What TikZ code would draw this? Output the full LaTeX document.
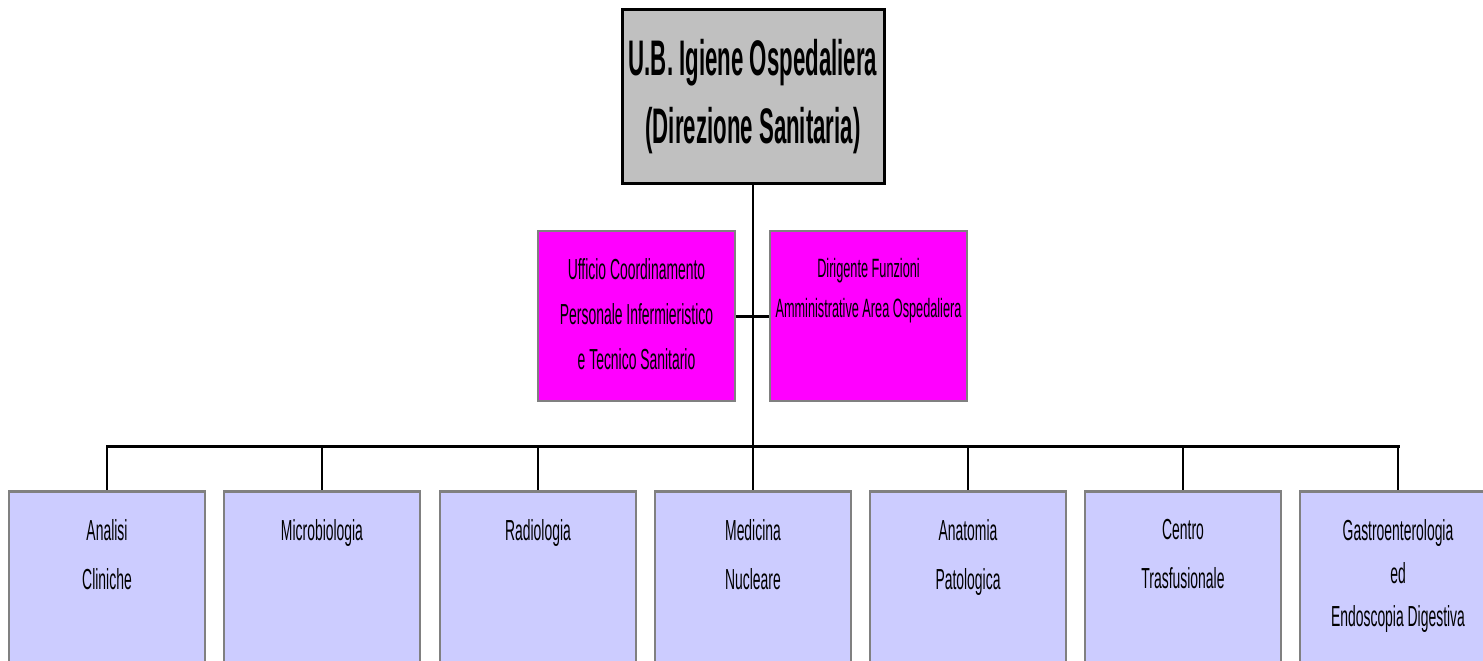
\documentclass[tikz,border=0pt]{standalone}
\usepackage{fontspec}
\setmainfont[FakeStretch=0.48]{Liberation Sans}
\newfontfamily\titlefont[FakeStretch=0.445]{Liberation Sans}
\definecolor{topgray}{HTML}{C0C0C0}
\definecolor{magbox}{HTML}{FF00FF}
\definecolor{lavbox}{HTML}{CCCCFF}
\definecolor{edgegray}{HTML}{808080}
\tikzset{
  topbox/.style={draw=black, line width=3pt, fill=topgray, minimum width=262pt, minimum height=173pt, inner sep=0pt, align=center, font=\titlefont\bfseries\fontsize{50}{68}\selectfont},
  magentabox/.style={draw=edgegray, line width=2.5pt, fill=magbox, minimum width=197pt, minimum height=170pt, inner sep=0pt},
  unitbox/.style={draw=edgegray, line width=2.5pt, fill=lavbox, minimum width=196pt, minimum height=200pt, inner sep=0pt, anchor=north},
  boxtext/.style={anchor=north, inner sep=0pt, align=center},
  thickline/.style={line width=3pt},
  trunkline/.style={line width=2.5pt},
  dropline/.style={line width=1.5pt}
}
\begin{document}
\begin{tikzpicture}[x=1pt,y=-1pt]
\useasboundingbox (0,0) rectangle (1483,661);
\clip (0,0) rectangle (1483,661);
% top node
\node[topbox] (top) at (753,96.5) {U.B. Igiene Ospedaliera\\(Direzione Sanitaria)};
% staff boxes
\node[magentabox] (uff) at (636.5,316) {};
\node[magentabox] (dir) at (868.5,316) {};
\node[boxtext, font=\fontsize{29}{45}\selectfont] (uffT) at (636.5,258) {Ufficio Coordinamento\\Personale Infermieristico\\e Tecnico Sanitario};
\node[boxtext, font=\fontsize{26.5}{40}\selectfont] (dirT) at (868.5,258) {Dirigente Funzioni\\Amministrative Area Ospedaliera};
% bottom units
\foreach \i/\x in {1/107,2/322,3/538,4/753,5/968,6/1183,7/1398}{
  \node[unitbox] (u\i) at (\x,490) {};
}
\tikzset{twoline/.style={boxtext, font=\fontsize{29}{49}\selectfont}}
\node[twoline] (t1) at (u1.north |- 0,519) {Analisi\\Cliniche};
\node[twoline] (t2) at (u2.north |- 0,519) {Microbiologia};
\node[twoline] (t3) at (u3.north |- 0,519) {Radiologia};
\node[twoline] (t4) at (u4.north |- 0,519) {Medicina\\Nucleare};
\node[twoline] (t5) at (u5.north |- 0,519) {Anatomia\\Patologica};
\node[twoline] (t6) at (u6.north |- 0,519) {Centro\\Trasfusionale};
\node[boxtext, font=\fontsize{29}{43}\selectfont] (t7) at (u7.north |- 0,519) {Gastroenterologia\\ed\\Endoscopia Digestiva};
% connectors
\coordinate (busL) at (u1.north |- 0,446);
\coordinate (busR) at (u7.north |- 0,446);
\coordinate (busM) at (top.south |- 0,446);
\draw[trunkline] (top.south) -- (busM);
\draw[thickline] (uff.east) -- (dir.west);
\draw[thickline, line cap=rect] (busL) -- (busR);
\foreach \i in {1,...,7}{
  \draw[dropline] (u\i.north |- busL) -- (u\i.north);
}
\end{tikzpicture}
\end{document}
